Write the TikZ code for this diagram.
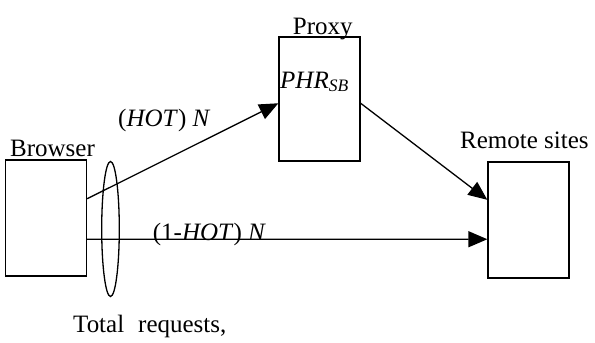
\documentclass[tikz,border=0pt]{standalone}
\usepackage{fontspec}
\setmainfont{Liberation Serif}
\usetikzlibrary{arrows.meta,shapes.geometric,calc}
\begin{document}
\begin{tikzpicture}[x=1pt,y=-1pt,
  box/.style={draw,line width=1.3pt,inner sep=0pt,minimum width=81pt},
  lbl/.style={inner sep=0pt,anchor=base west,font=\fontsize{25}{30}\selectfont},
  arr/.style={line width=1.3pt,-{Triangle[length=19pt,width=16pt]}}]
\useasboundingbox (0,0) rectangle (595,343);
\node[box,minimum height=116pt] (browser) at (46,218) {};
\node[box,minimum height=124pt] (proxy) at (319.5,99) {};
\node[box,minimum height=116pt] (remote) at (528.5,220) {};
\node[draw,ellipse,line width=1.3pt,inner sep=0pt,minimum width=17.6pt,minimum height=135pt] (total) at (110.5,229) {};
\node[lbl] (lbrowser) at (10,156.7) {Browser};
\node[lbl] (lproxy) at (292.7,34) {Proxy};
\node[lbl] (lremote) at (460,148.3) {Remote sites};
\node[lbl] (phr) at (280,88) {\textit{PHR}\textsubscript{\textit{SB}}};
\node[lbl] (hot) at (118,126) {(\textit{HOT}) \textit{N}};
\node[lbl] (nothot) at (152.7,240) {(1-\textit{HOT}) \textit{N}};
\node[lbl] (ltotal) at (73,332) {Total\hspace{14pt}requests,};
\draw[arr] ($(browser.north east)!0.336!(browser.south east)$) -- ($(proxy.north west)!0.534!(proxy.south west)$);
\draw[arr] ($(browser.north east)!0.681!(browser.south east)$) -- ($(remote.north west)!0.664!(remote.south west)$);
\draw[arr] ($(proxy.north east)!0.534!(proxy.south east)$) -- ($(remote.north west)!0.328!(remote.south west)$);
\end{tikzpicture}
\end{document}
